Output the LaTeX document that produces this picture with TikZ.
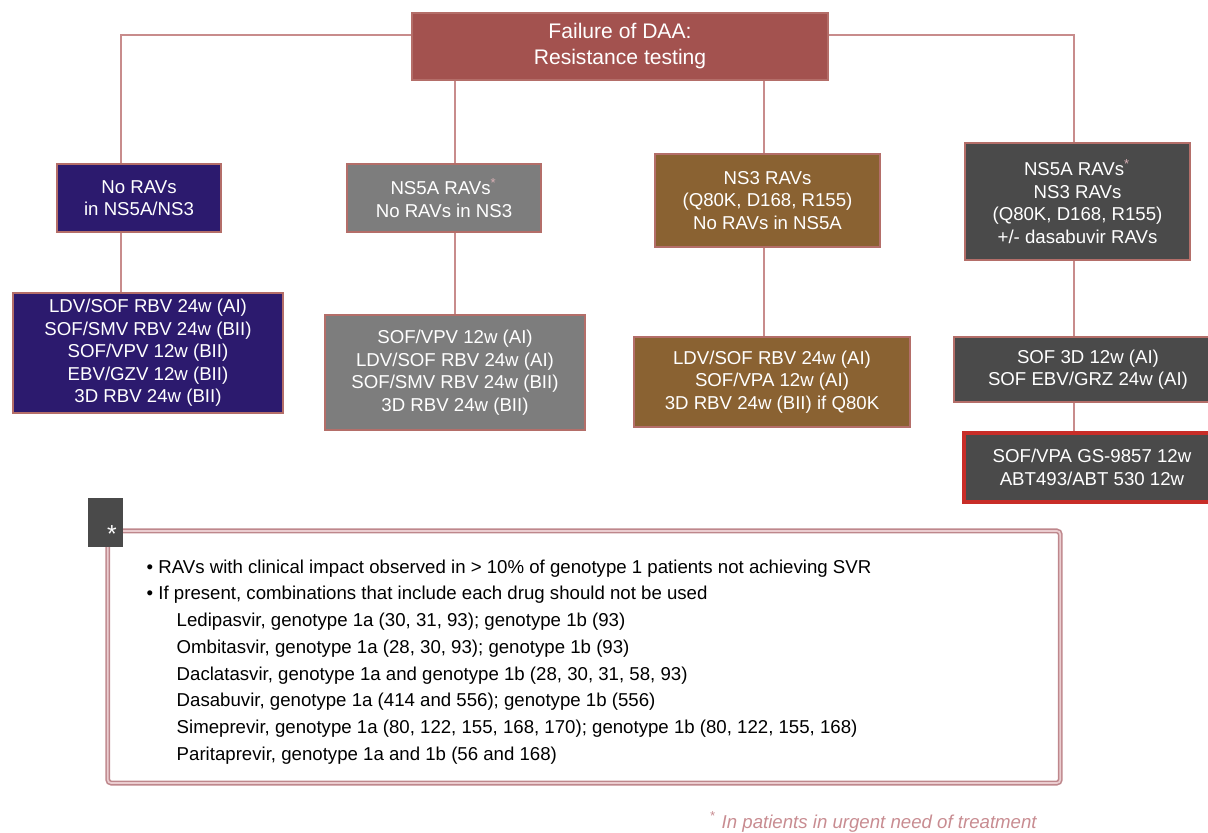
\documentclass[tikz,border=0pt]{standalone}
\usepackage{fontspec}
\setmainfont{Liberation Sans}
\usetikzlibrary{positioning}

\definecolor{failred}{RGB}{163,82,79}
\definecolor{indigo}{RGB}{44,26,110}
\definecolor{midgray}{RGB}{125,125,125}
\definecolor{ochre}{RGB}{138,98,50}
\definecolor{darkgray}{RGB}{74,74,74}
\definecolor{linkc}{RGB}{200,140,140}
\definecolor{boxedge}{RGB}{180,110,105}
\definecolor{urgred}{RGB}{200,45,40}
\definecolor{framec}{RGB}{190,135,140}
\definecolor{framein}{RGB}{235,205,208}
\definecolor{footc}{RGB}{200,140,145}
\definecolor{starc}{RGB}{215,175,180}

\newcommand{\st}{\textsuperscript{\color{starc}*}}

\begin{document}
\begin{tikzpicture}[x=0.01cm, y=-0.01cm,
  box/.style={draw=boxedge, line width=0.4pt, text=white, align=center,
              inner sep=0pt, font=\fontsize{5.3}{6.4}\selectfont},
  link/.style={draw=linkc, line width=0.6pt},
  frame/.style={draw=framec, double=framein, line width=0.45pt,
                double distance=0.5pt, rounded corners=1pt},
  notetext/.style={align=left, inner sep=0pt, text=black,
                   font=\fontsize{5.3}{7.6}\selectfont},
  foot/.style={inner sep=0pt, text=footc, font=\fontsize{5.3}{6.4}\selectfont\itshape}
]
  \useasboundingbox (0,0) rectangle (1208,832);

  % bar positions of the connectors
  \coordinate (c1) at (121,35);
  \coordinate (c2) at (455,35);
  \coordinate (c3) at (764,35);
  \coordinate (c4) at (1074,35);

  \node[box, fill=failred, minimum width=4.16cm, minimum height=0.67cm,
        font=\fontsize{6}{7.4}\selectfont] (fail) at (620,46.5)
        {Failure of DAA:\\Resistance testing};

  \node[box, fill=indigo, minimum width=1.64cm, minimum height=0.68cm]
        (none) at (139,198) {No RAVs\\in NS5A/NS3};
  \node[box, fill=indigo, minimum width=2.70cm, minimum height=1.20cm]
        (noneRx) at (148,353)
        {LDV/SOF RBV 24w (AI)\\SOF/SMV RBV 24w (BII)\\SOF/VPV 12w (BII)\\EBV/GZV 12w (BII)\\3D RBV 24w (BII)};

  \node[box, fill=midgray, minimum width=1.94cm, minimum height=0.68cm]
        (nsfive) at (444,198) {NS5A RAVs\st\\No RAVs in NS3};
  \node[box, fill=midgray, minimum width=2.60cm, minimum height=1.15cm]
        (nsfiveRx) at (455,372.5)
        {SOF/VPV 12w (AI)\\LDV/SOF RBV 24w (AI)\\SOF/SMV RBV 24w (BII)\\3D RBV 24w (BII)};

  \node[box, fill=ochre, minimum width=2.25cm, minimum height=0.93cm]
        (nsthree) at (767.5,200.5) {NS3 RAVs\\(Q80K, D168, R155)\\No RAVs in NS5A};
  \node[box, fill=ochre, minimum width=2.76cm, minimum height=0.90cm]
        (nsthreeRx) at (772,382)
        {LDV/SOF RBV 24w (AI)\\SOF/VPA 12w (AI)\\3D RBV 24w (BII) if Q80K};

  \node[box, fill=darkgray, minimum width=2.25cm, minimum height=1.17cm]
        (both) at (1077.5,201.5)
        {NS5A RAVs\st\\NS3 RAVs\\(Q80K, D168, R155)\\+/- dasabuvir RAVs};
  \node[box, fill=darkgray, minimum width=2.68cm, minimum height=0.65cm]
        (bothRx) at (1088,369.5) {SOF 3D 12w (AI)\\SOF EBV/GRZ 24w (AI)};
  \node[box, fill=darkgray, draw=urgred, line width=0.9pt,
        minimum width=2.56cm, minimum height=0.69cm]
        (urgent) at (1092,467.5) {SOF/VPA GS-9857 12w\\ABT493/ABT 530 12w};

  \draw[link] (fail.west |- c1) -| (none.north -| c1);
  \draw[link] (fail.east |- c4) -| (both.north -| c4);
  \draw[link] (fail.south -| c2) -- (nsfive.north -| c2);
  \draw[link] (fail.south -| c3) -- (nsthree.north -| c3);
  \draw[link] (none.south -| c1) -- (noneRx.north -| c1);
  \draw[link] (nsfive.south -| c2) -- (nsfiveRx.north -| c2);
  \draw[link] (nsthree.south -| c3) -- (nsthreeRx.north -| c3);
  \draw[link] (both.south -| c4) -- (bothRx.north -| c4);
  \draw[link] (bothRx.south -| c4) -- (urgent.north -| c4);

  % notes
  \node[frame, minimum width=9.52cm, minimum height=2.52cm] (frame) at (584,657) {};
  \node[fill=darkgray, minimum width=0.35cm, minimum height=0.49cm, inner sep=0pt]
        (starbox) at (105.5,522.5) {};
  \node[inner sep=0pt, text=white, font=\fontsize{7}{7}\selectfont] (ast) at (112,534) {*};

  \node[notetext, anchor=north west] (notes) at (146,559)
  {\textbullet\ RAVs with clinical impact observed in > 10\% of genotype 1 patients not achieving SVR\\
   \textbullet\ If present, combinations that include each drug should not be used\\
   \hspace*{0.30cm}Ledipasvir, genotype 1a (30, 31, 93); genotype 1b (93)\\
   \hspace*{0.30cm}Ombitasvir, genotype 1a (28, 30, 93); genotype 1b (93)\\
   \hspace*{0.30cm}Daclatasvir, genotype 1a and genotype 1b (28, 30, 31, 58, 93)\\
   \hspace*{0.30cm}Dasabuvir, genotype 1a (414 and 556); genotype 1b (556)\\
   \hspace*{0.30cm}Simeprevir, genotype 1a (80, 122, 155, 168, 170); genotype 1b (80, 122, 155, 168)\\
   \hspace*{0.30cm}Paritaprevir, genotype 1a and 1b (56 and 168)};

  \node[foot, anchor=base west] (footnote) at (709,828)
        {\textsuperscript{*} In patients in urgent need of treatment};
\end{tikzpicture}
\end{document}
